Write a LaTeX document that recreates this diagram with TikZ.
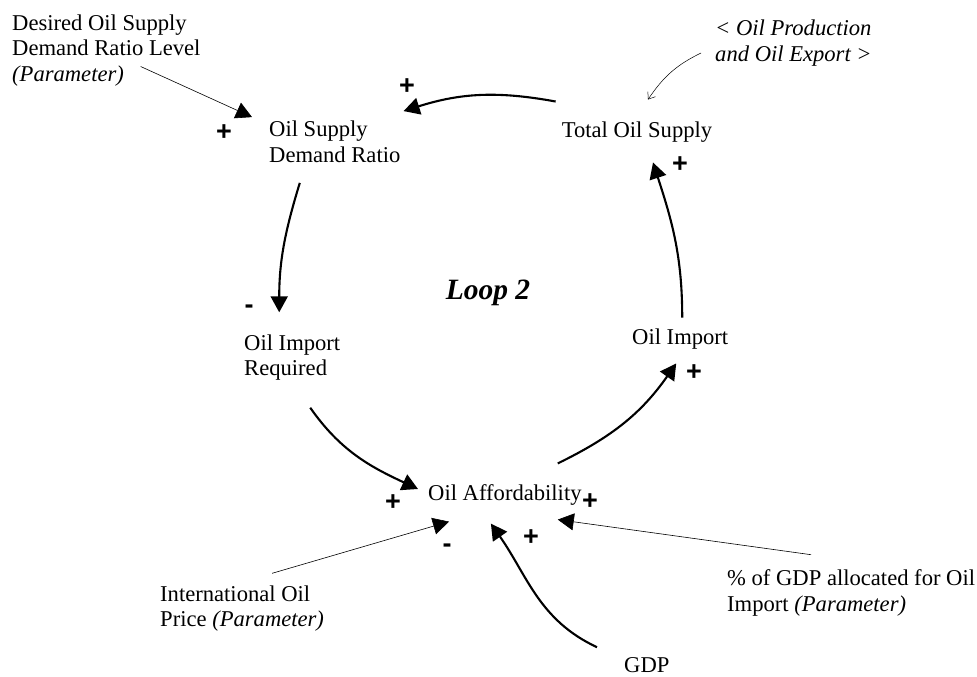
\documentclass[tikz,border=0pt]{standalone}
\usepackage{fontspec}
\setmainfont{Liberation Serif}
\newfontfamily\signfont{Liberation Sans}
\usetikzlibrary{arrows.meta}

\begin{document}
\begin{tikzpicture}[x=1pt,y=1pt,
    var/.style={inner sep=0pt,align=left,font=\fontsize{22.6}{25.5}\selectfont},
    link/.style={line width=2.1pt,-{Triangle[length=16pt,width=17pt]}},
    param/.style={line width=0.6pt,-{Triangle[length=16pt,width=17pt]}},
    shadow/.style={line width=0.5pt,-{Straight Barb[length=6pt,width=9pt]}},
    pol/.style={inner sep=0pt,font=\signfont\bfseries\fontsize{27}{27}\selectfont}]
    \useasboundingbox (0,0) rectangle (977,-677);

    % variables
    \node[var,anchor=west] (desired) at (12,-50.5) {Desired Oil Supply\\Demand Ratio Level\\\textit{(Parameter)}};
    \node[var,anchor=west] (ratio) at (269,-142) {Oil Supply\\Demand Ratio};
    \node[var] (total) at (637,-132) {Total Oil Supply};
    \node[var,anchor=west] (prod) at (715,-43) {\textit{< Oil Production}\\\textit{and Oil Export >}};
    \node[inner sep=0pt,font=\bfseries\itshape\fontsize{29.5}{29.5}\selectfont] (loop) at (488,-292.5) {Loop 2};
    \node[var,anchor=west] (req) at (244,-357.5) {Oil Import\\Required};
    \node[var,anchor=west] (import) at (632,-339) {Oil Import};
    \node[var,anchor=west] (aff) at (428,-495) {Oil Affordability};
    \node[var,anchor=west] (price) at (160,-608.5) {International Oil\\Price \textit{(Parameter)}};
    \node[var,anchor=west] (gdp) at (624,-665) {GDP};
    \node[var,anchor=west] (share) at (727,-593) {\% of GDP allocated for Oil\\Import \textit{(Parameter)}};

    % loop links
    \draw[link] ([xshift=-6pt,yshift=20pt]total.north west) to[bend right=14] ([xshift=3pt,yshift=10pt]ratio.north east);
    \draw[link] ([xshift=-35pt,yshift=-20pt]ratio.south) to[out=-107,in=90] ([xshift=-13pt,yshift=22pt]req.north);
    \draw[link] ([xshift=18pt,yshift=-27pt]req.south) to[out=-55,in=155] ([xshift=-10pt,yshift=6pt]aff.west);
    \draw[link] ([xshift=-24pt,yshift=21pt]aff.north east) to[out=26,in=235] ([xshift=-4pt,yshift=-14pt]import.south);
    \draw[link] ([xshift=2pt,yshift=11pt]import.north) to[out=90,in=-72] ([xshift=16pt,yshift=-20pt]total.south);
    \draw[link] ([xshift=-27pt,yshift=10pt]gdp.north west) to[out=155,in=-55] ([xshift=-14pt,yshift=-18pt]aff.south);

    % parameters
    \draw[param] ([xshift=-60pt,yshift=-16pt]desired.east) -- ([xshift=-17pt,yshift=4pt]ratio.north west);
    \draw[param] ([xshift=30pt,yshift=12pt]price.north) -- ([xshift=21pt,yshift=-16pt]aff.south west);
    \draw[param] ([xshift=84pt,yshift=15pt]share.north west) -- ([xshift=-24pt,yshift=-14pt]aff.south east);
    \draw[shadow] ([xshift=-14pt,yshift=-10pt]prod.west) to[out=206,in=56] ([xshift=11pt,yshift=22pt]total.north);

    % polarities
    \node[pol] (p1) at (224,-133) {+};
    \node[pol] (p2) at (407,-87) {+};
    \node[pol] (p3) at (680,-165) {+};
    \node[pol] (p4) at (249,-309) {-};
    \node[pol] (p5) at (694,-373) {+};
    \node[pol] (p6) at (393,-503) {+};
    \node[pol] (p7) at (590,-502) {+};
    \node[pol] (p8) at (447,-548) {-};
    \node[pol] (p9) at (531,-538) {+};
\end{tikzpicture}
\end{document}
